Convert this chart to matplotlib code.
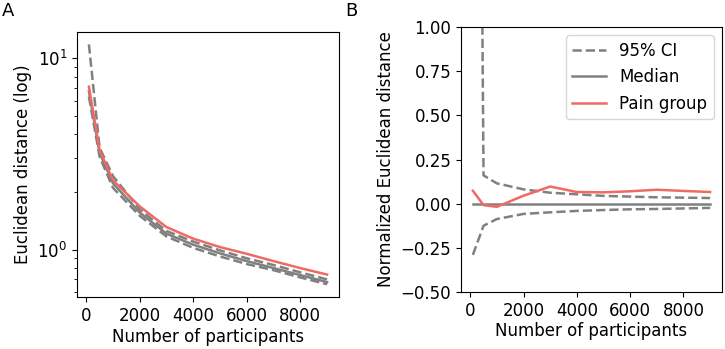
import matplotlib
matplotlib.use("Agg")
import matplotlib.pyplot as plt

# sample sizes shared by both panels
n_participants = [100, 500, 1000, 2000, 3000, 4000, 5000, 6000, 7000, 8000, 9000]

# panel A: raw Euclidean distance (log scale)
dist_pain = [7.1, 3.3, 2.3, 1.68, 1.31, 1.14, 1.03, 0.95, 0.87, 0.80, 0.74]
dist_median = [6.7, 3.2, 2.22, 1.56, 1.21, 1.06, 0.955, 0.87, 0.80, 0.735, 0.676]
dist_upper = [11.8, 3.4, 2.42, 1.62, 1.25, 1.10, 0.99, 0.90, 0.83, 0.76, 0.698]
dist_lower = [6.3, 3.05, 2.1, 1.50, 1.17, 1.02, 0.92, 0.84, 0.78, 0.715, 0.659]

# panel B: normalized distance
norm_pain = [0.073, -0.008, -0.018, 0.045, 0.097, 0.066, 0.064, 0.070, 0.079, 0.072, 0.066]
norm_median = [0, 0, 0, 0, 0, 0, 0, 0, 0, 0, 0]
norm_upper = [8.0, 0.16, 0.115, 0.081, 0.062, 0.053, 0.044, 0.040, 0.036, 0.034, 0.032]
norm_lower = [-0.29, -0.125, -0.087, -0.058, -0.049, -0.041, -0.036, -0.032, -0.030, -0.027, -0.024]

GRAY = "#808080"
RED = "#F06A64"
LW = 1.8
FS = 12

plt.rcParams["font.size"] = FS

W, H = 725, 349
fig = plt.figure(figsize=(W / 100, H / 100), dpi=100)


def px_axes(left, top, right, bottom):
    return fig.add_axes([left / W, 1 - bottom / H, (right - left) / W, (bottom - top) / H])


# A
ax = px_axes(77, 32, 339, 297)
ax.plot(n_participants, dist_upper, "--", color=GRAY, lw=LW)
ax.plot(n_participants, dist_lower, "--", color=GRAY, lw=LW)
ax.plot(n_participants, dist_median, "-", color=GRAY, lw=LW)
ax.plot(n_participants, dist_pain, "-", color=RED, lw=LW)
ax.set_yscale("log")
ax.set_ylim(0.565, 13.7)
ax.set_xticks([0, 2000, 4000, 6000, 8000])
ax.set_xlabel("Number of participants", labelpad=2)
ax.set_ylabel("Euclidean distance (log)")

# B
bx = px_axes(461, 27, 722, 292)
bx.plot(n_participants, norm_upper, "--", color=GRAY, lw=LW, label="95% CI")
bx.plot(n_participants, norm_lower, "--", color=GRAY, lw=LW)
bx.plot(n_participants, norm_median, "-", color=GRAY, lw=LW, label="Median")
bx.plot(n_participants, norm_pain, "-", color=RED, lw=LW, label="Pain group")
bx.set_ylim(-0.5, 1.0)
bx.set_yticks([-0.5, -0.25, 0, 0.25, 0.5, 0.75, 1.0])
bx.set_xticks([0, 2000, 4000, 6000, 8000])
bx.set_xlabel("Number of participants", labelpad=2)
bx.set_ylabel("Normalized Euclidean distance")
bx.legend(loc="upper right", fontsize=FS)

fig.text(2 / W, 1 - 11 / H, "A", fontsize=13, va="center", ha="left")
fig.text(345 / W, 1 - 11 / H, "B", fontsize=13, va="center", ha="left")

fig.savefig("out.png", dpi=100)
